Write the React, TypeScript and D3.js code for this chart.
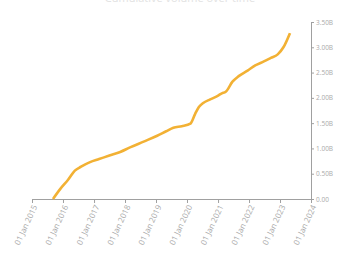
import React, { useRef, useEffect } from 'react';
import * as d3 from 'd3';

// cumulative series (billions)
const dates = [
  '2015-09-05', '2015-12-01', '2016-03-01', '2016-05-20', '2016-08-01', '2016-11-15',
  '2017-03-01', '2017-07-01', '2017-11-05', '2018-03-01', '2018-08-01', '2019-01-15',
  '2019-05-01', '2019-07-25', '2019-11-01', '2020-02-10', '2020-04-05', '2020-05-20',
  '2020-07-10', '2020-10-01', '2020-12-28', '2021-02-15', '2021-04-01', '2021-06-20',
  '2021-09-01', '2021-12-15', '2022-03-15', '2022-06-25', '2022-09-15', '2022-12-05',
  '2023-02-10', '2023-04-28',
];
const values = [
  0.0, 0.2, 0.38, 0.56, 0.64, 0.73,
  0.79, 0.86, 0.93, 1.02, 1.13, 1.25,
  1.34, 1.41, 1.44, 1.49, 1.68, 1.82,
  1.9, 1.97, 2.04, 2.09, 2.12, 2.32,
  2.43, 2.54, 2.64, 2.72, 2.79, 2.86,
  3.0, 3.28,
];
const xTickYears = [2015, 2016, 2017, 2018, 2019, 2020, 2021, 2022, 2023, 2024];
const yTicks = [0, 0.5, 1, 1.5, 2, 2.5, 3, 3.5];
const title = 'Cumulative volume over time';

const W = 337;
const H = 255;

const App: React.FC = () => {
  const svgRef = useRef<SVGSVGElement | null>(null);

  useEffect(() => {
    if (!svgRef.current) return;
    const svg = d3.select(svgRef.current);
    svg.selectAll('*').remove();

    const parse = d3.timeParse('%Y-%m-%d');
    const data = dates.map((d, i) => ({ date: parse(d)!, value: values[i] }));

    const x = d3.scaleTime()
      .domain([new Date(2015, 0, 1), new Date(2024, 0, 1)])
      .range([32, 311]);
    const y = d3.scaleLinear()
      .domain([0, 3.5])
      .range([199, 22]);

    // title sits mostly above the visible area, as in the reference
    svg.append('text')
      .attr('x', 180)
      .attr('y', 1.5)
      .attr('text-anchor', 'middle')
      .style('font-family', 'Open Sans, sans-serif')
      .style('font-size', '11px')
      .attr('fill', '#e2e2e2')
      .text(title);

    // x axis
    const gx = svg.append('g')
      .attr('transform', `translate(0,199)`)
      .call(d3.axisBottom(x)
        .tickValues(xTickYears.map(yr => new Date(yr, 0, 1)))
        .tickFormat(d => d3.timeFormat('%d %b %Y')(d as Date))
        .tickSize(4)
        .tickSizeOuter(0));
    gx.select('.domain').attr('stroke', '#a0a0a0');
    gx.selectAll('.tick line').attr('stroke', '#a0a0a0');
    gx.selectAll('.tick text')
      .attr('fill', '#a8a8a8')
      .style('font-family', 'Open Sans, sans-serif')
      .style('font-size', '8px')
      .attr('text-anchor', 'end')
      .attr('transform', 'rotate(-65)')
      .attr('dx', '-0.6em')
      .attr('dy', '0.1em');

    // y axis on the right
    const gy = svg.append('g')
      .attr('transform', `translate(311,0)`)
      .call(d3.axisRight(y)
        .tickValues(yTicks)
        .tickFormat(d => (+d === 0 ? '0.00' : d3.format('.2f')(+d) + 'B'))
        .tickSize(3)
        .tickSizeOuter(0));
    gy.select('.domain').attr('stroke', '#a0a0a0');
    gy.selectAll('.tick line').attr('stroke', '#a0a0a0');
    gy.selectAll('.tick text')
      .attr('fill', '#aaa')
      .style('font-family', 'Open Sans, sans-serif')
      .style('font-size', '6.5px')
      .attr('x', 5);

    const line = d3.line<{ date: Date; value: number }>()
      .x(d => x(d.date))
      .y(d => y(d.value))
      .curve(d3.curveMonotoneX);

    svg.append('path')
      .datum(data)
      .attr('fill', 'none')
      .attr('stroke', '#f2b134')
      .attr('stroke-width', 2.6)
      .attr('stroke-linejoin', 'round')
      .attr('d', line);
  }, []);

  return (
    <svg
      ref={svgRef}
      width={W}
      height={H}
      style={{ position: 'absolute', left: 0, top: 0, background: '#fff' }}
    />
  );
};

export default App;
